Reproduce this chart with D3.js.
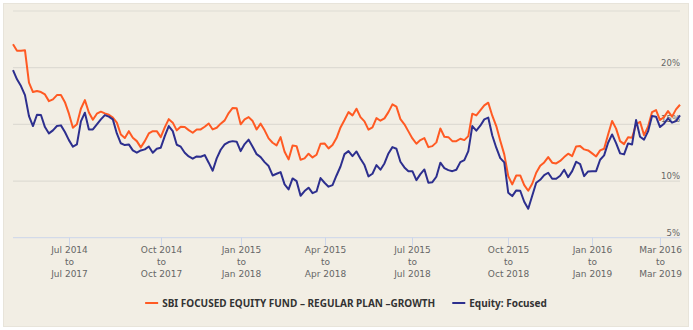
<!DOCTYPE html>
<html>
<head>
<meta charset="utf-8">
<script src="https://cdn.jsdelivr.net/npm/d3@7"></script>
<style>
  body { margin: 0; background: #ffffff; }
  svg { display: block; font-family: "Noto Sans", "DejaVu Sans", sans-serif; }
</style>
</head>
<body>
<div id="chart"></div>
<script>
// 3 year rolling returns (%), one point per sample
const fundName = "SBI FOCUSED EQUITY FUND – REGULAR PLAN –GROWTH";
const categoryName = "Equity: Focused";

const fundValues = [
  22.06, 21.50, 21.50, 21.53, 18.68, 17.85, 17.94, 17.85, 17.64, 17.05,
  17.20, 17.58, 17.58, 16.96, 15.94, 14.70, 15.00, 16.38, 17.14, 16.05,
  15.41, 15.94, 16.12, 15.97, 15.85, 15.59, 15.15, 14.10, 13.79, 14.40,
  13.82, 13.52, 12.97, 13.52, 14.20, 14.40, 14.40, 13.87, 14.73, 15.46,
  15.15, 14.47, 14.79, 14.76, 14.49, 14.26, 14.55, 14.55, 14.79, 15.08,
  14.55, 14.70, 15.06, 15.35, 16.00, 16.45, 16.43, 15.00, 15.44, 15.64,
  15.29, 14.55, 15.06, 14.47, 13.76, 13.38, 13.14, 13.87, 12.59, 11.91,
  13.14, 13.08, 11.88, 12.00, 12.41, 12.08, 12.32, 13.29, 13.32, 12.88,
  13.17, 13.79, 14.73, 15.38, 16.08, 15.79, 16.38, 15.64, 15.26, 14.53,
  14.73, 15.55, 15.32, 15.53, 16.08, 16.76, 16.56, 15.46, 15.00, 14.38,
  13.76, 13.29, 13.61, 13.79, 12.99, 13.08, 13.41, 14.64, 13.91, 13.87,
  13.52, 13.52, 13.73, 13.61, 13.96, 15.94, 15.79, 16.23, 16.67, 16.91,
  15.76, 14.85, 13.56, 12.35, 10.43, 9.70, 10.49, 10.49, 9.64, 9.14,
  9.76, 10.73, 11.35, 11.64, 12.11, 11.62, 11.55, 11.77, 12.11, 12.41,
  12.20, 13.05, 13.08, 12.79, 12.70, 12.44, 12.17, 12.70, 12.85, 14.11,
  15.29, 14.62, 13.52, 13.26, 13.87, 13.82, 15.00, 15.23, 14.05, 14.79,
  16.08, 16.26, 15.38, 15.64, 16.17, 15.68, 16.32, 16.73
];

const categoryValues = [
  19.79, 18.97, 18.38, 17.58, 15.73, 14.85, 15.85, 15.82, 14.76, 14.20,
  14.47, 14.85, 14.91, 14.32, 13.61, 13.03, 13.23, 15.26, 16.03, 14.55,
  14.55, 15.00, 15.44, 15.82, 15.68, 15.44, 14.20, 13.33, 13.17, 13.23,
  12.70, 12.50, 12.70, 12.79, 13.05, 12.50, 12.85, 12.94, 13.96, 14.85,
  14.40, 13.20, 13.03, 12.50, 12.17, 11.97, 12.17, 12.14, 12.29, 11.62,
  10.91, 12.00, 12.76, 13.23, 13.44, 13.52, 13.47, 12.64, 13.26, 13.65,
  13.03, 12.37, 12.11, 11.67, 11.32, 10.49, 10.64, 10.79, 9.70, 9.26,
  10.23, 9.99, 8.70, 9.11, 9.41, 8.93, 9.08, 10.26, 9.85, 9.50,
  9.64, 10.49, 11.28, 12.37, 12.64, 12.20, 12.61, 11.97, 11.41, 10.41,
  10.64, 11.41, 11.00, 11.55, 12.43, 12.99, 12.85, 11.70, 11.20, 10.87,
  10.87, 10.08, 10.61, 11.02, 9.85, 9.90, 10.38, 11.62, 11.14, 10.96,
  10.87, 11.00, 11.67, 11.84, 12.64, 14.85, 14.44, 14.88, 15.44, 15.59,
  14.02, 12.94, 12.02, 11.64, 8.96, 8.67, 9.17, 9.14, 8.17, 7.55,
  8.70, 9.85, 10.11, 10.52, 10.73, 10.20, 10.20, 10.47, 11.00, 10.34,
  10.87, 11.70, 11.49, 10.43, 10.85, 10.87, 10.87, 11.88, 12.26, 13.38,
  14.11, 13.35, 12.44, 12.35, 13.32, 13.23, 15.38, 13.91, 13.65, 14.38,
  15.73, 15.68, 14.76, 15.06, 15.53, 15.15, 15.29, 15.79
];

// x axis labels: sample index where the period starts
const tickIndex = [14, 37, 57, 78, 100, 124, 145, 162];
const tickFrom = ["Jul 2014", "Oct 2014", "Jan 2015", "Apr 2015", "Jul 2015", "Oct 2015", "Jan 2016", "Mar 2016"];
const tickTo = ["Jul 2017", "Oct 2017", "Jan 2018", "Apr 2018", "Jul 2018", "Oct 2018", "Jan 2019", "Mar 2019"];

const yTicks = [5, 10, 15, 20, 25];

const width = 693, height = 330;
const plotLeft = 13, plotRight = 680, plotTop = 11, plotBottom = 237.7;

const svg = d3.select('#chart').append('svg')
  .attr('width', width)
  .attr('height', height);

svg.append('rect')
  .attr('x', 3.5).attr('y', 3.5)
  .attr('width', 685).attr('height', 323)
  .attr('fill', '#f2eee4')
  .attr('stroke', '#e8e4da');

const x = d3.scaleLinear()
  .domain([0, fundValues.length - 1])
  .range([plotLeft, plotRight]);

const y = d3.scaleLinear()
  .domain([5, 25])
  .range([plotBottom, plotTop]);

// horizontal grid
svg.append('g')
  .selectAll('line')
  .data(yTicks.filter(d => d !== 5))
  .join('line')
  .attr('x1', plotLeft).attr('x2', plotRight)
  .attr('y1', d => y(d)).attr('y2', d => y(d))
  .attr('stroke', '#dedbd3')
  .attr('stroke-width', 1.2);

// y labels (top one hidden, like the original)
svg.append('g')
  .selectAll('text')
  .data(yTicks.filter(d => d !== 25))
  .join('text')
  .attr('x', plotRight)
  .attr('y', d => y(d) - 2)
  .attr('text-anchor', 'end')
  .attr('font-family', '"DejaVu Sans", sans-serif')
  .attr('font-size', '8.5px')
  .attr('fill', '#666')
  .text(d => d + '%');

// x axis
svg.append('line')
  .attr('x1', plotLeft).attr('x2', plotRight)
  .attr('y1', plotBottom).attr('y2', plotBottom)
  .attr('stroke', '#ccd6eb');

const ticks = svg.append('g')
  .selectAll('g')
  .data(tickIndex)
  .join('g')
  .attr('transform', d => `translate(${Math.round(x(d)) + 0.5},0)`);

ticks.append('line')
  .attr('y1', plotBottom).attr('y2', plotBottom + 8)
  .attr('stroke', '#ccd6eb');

ticks.each(function (d, i) {
  const g = d3.select(this);
  [tickFrom[i], 'to', tickTo[i]].forEach((t, j) => {
    g.append('text')
      .attr('y', 253 + j * 12)
      .attr('text-anchor', 'middle')
      .attr('font-family', '"DejaVu Sans", sans-serif')
      .attr('font-size', '9px')
      .attr('fill', '#666')
      .text(t);
  });
});

// series
const series = [
  { name: fundName, values: fundValues, color: '#ff5a23' },
  { name: categoryName, values: categoryValues, color: '#2d2f8e' }
];

series.forEach(s => {
  const line = d3.line()
    .x((d, i) => x(i))
    .y(d => y(d));
  svg.append('path')
    .datum(s.values)
    .attr('fill', 'none')
    .attr('stroke', s.color)
    .attr('stroke-width', 2)
    .attr('stroke-linejoin', 'round')
    .attr('d', line);
});

// legend
const legend = svg.append('g');
let lx = 0;
series.forEach((s, i) => {
  const item = legend.append('g').attr('transform', `translate(${lx},0)`);
  item.append('line')
    .attr('x1', 0).attr('x2', 13)
    .attr('y1', 303).attr('y2', 303)
    .attr('stroke', s.color)
    .attr('stroke-width', 2);
  const t = item.append('text')
    .attr('x', 17)
    .attr('y', 306.5)
    .attr('font-size', '10px')
    .attr('font-weight', 'bold')
    .attr('fill', '#333')
    .text(s.name);
  lx += 17 + t.node().getComputedTextLength() + 17;
});
const legendWidth = lx - 17;
legend.attr('transform', `translate(${346 - legendWidth / 2},0)`);
</script>
</body>
</html>
